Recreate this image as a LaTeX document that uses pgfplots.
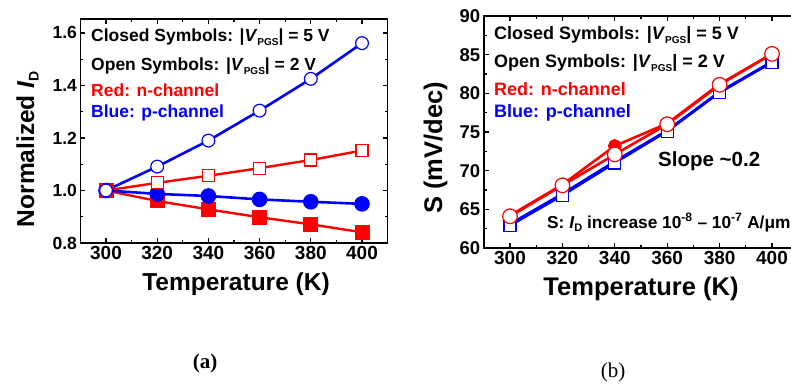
\documentclass[border=0pt]{standalone}
\usepackage{fontspec}
\setmainfont{Liberation Sans}
\newfontfamily\seriffont{Liberation Serif}
\usepackage{pgfplots}
\pgfplotsset{compat=1.18}
\newcommand{\fs}[1]{\fontsize{#1}{#1}\selectfont}
\newcommand{\Vpgs}{|\textit{V}\raisebox{-0.35ex}{\fs{10}PGS}|}
\pgfplotsset{
  myaxis/.style={
    scale only axis,
    anchor=south west,
    axis line style={line width=1.7pt},
    every tick/.style={line width=1.3pt, black},
    major tick length=5pt, minor tick length=3pt,
    tick align=inside,
    xtick={300,320,340,360,380,400},
    minor x tick num=1, minor y tick num=1,
    xmin=290, xmax=410,
    /pgf/number format/assume math mode=true,
    xticklabel style={font=\bfseries\fs{19}},
    yticklabel style={font=\bfseries\fs{17.5}},
    clip=false,
  },
  closedsq/.style={line width=2.4pt, mark=square*, mark size=6.3pt, mark options={solid, line width=0.4pt}},
  opensq/.style={line width=2.4pt, mark=square*, mark size=6pt, mark options={solid, fill=white, line width=1.2pt}},
  closedci/.style={line width=2.6pt, mark=*, mark size=6.5pt, mark options={solid, line width=0.4pt}},
  openci/.style={line width=2.6pt, mark=*, mark size=6.4pt, mark options={solid, fill=white, line width=1.2pt}},
}
\begin{document}
\begin{tikzpicture}
\path[use as bounding box] (0pt,0pt) rectangle (791pt,383pt);
% ---------- (a) ----------
\begin{axis}[myaxis, at={(80.4pt,140pt)}, width=307.2pt, height=224pt,
  ymin=0.8, ymax=1.653, ytick={0.8,1.0,1.2,1.4,1.6},
  yticklabel style={/pgf/number format/.cd, fixed, fixed zerofill, precision=1}]
\addplot[red, closedsq, mark options={fill=red}] coordinates {(300,1.0) (320,0.960) (340,0.928) (360,0.898) (380,0.871) (400,0.841)};
\addplot[blue, closedci, mark options={fill=blue}] coordinates {(300,1.0) (320,0.987) (340,0.979) (360,0.966) (380,0.957) (400,0.949)};
\addplot[red, opensq] coordinates {(300,1.0) (320,1.029) (340,1.056) (360,1.085) (380,1.116) (400,1.152)};
\addplot[blue, openci] coordinates {(300,1.0) (320,1.091) (340,1.190) (360,1.304) (380,1.425) (400,1.561)};
\end{axis}
% ---------- (b) ----------
\begin{axis}[myaxis, at={(483.8pt,135pt)}, width=314.4pt, height=232pt,
  ymin=60, ymax=90, ytick={60,65,70,75,80,85,90},
  yticklabel style={font=\bfseries\fs{18.5}}]
\addplot[blue, closedci, mark size=4.5pt, mark options={fill=blue}] coordinates {(300,63.1) (320,67.0) (340,71.2) (360,75.2) (380,80.2) (400,84.1)};
\addplot[blue, opensq, mark size=6pt] coordinates {(300,62.9) (320,66.8) (340,71.0) (360,75.1) (380,80.1) (400,84.0)};
\addplot[red, closedci, mark size=5.5pt, mark options={fill=red}] coordinates {(300,64.2) (320,68.2) (340,73.2) (360,76.1) (380,81.2) (400,85.1)};
\addplot[red, openci, mark size=7.3pt] coordinates {(300,64.1) (320,68.1) (340,72.1) (360,76.0) (380,81.1) (400,85.1)};
\end{axis}
% ---------- texts ----------
\begin{scope}[every node/.style={anchor=base west, inner sep=0pt, font=\bfseries\fs{17.5}}]
\node at (91pt,341pt) {Closed Symbols: \Vpgs{} = 5 V};
\node at (91pt,312pt) {Open Symbols: \Vpgs{} = 2 V};
\node[text=red] at (91pt,286pt) {Red: n-channel};
\node[text=blue] at (91pt,265pt) {Blue: p-channel};
\node[font=\bfseries\fs{18}] at (494pt,343pt) {Closed Symbols: \Vpgs{} = 5 V};
\node[font=\bfseries\fs{18}] at (494pt,315pt) {Open Symbols: \Vpgs{} = 2 V};
\node[text=red, font=\bfseries\fs{18}] at (494pt,287pt) {Red: n-channel};
\node[text=blue, font=\bfseries\fs{18}] at (494pt,265pt) {Blue: p-channel};
\node[font=\bfseries\fs{20.5}] at (658pt,216pt) {Slope \textasciitilde0.2};
\node[font=\bfseries\fs{17.3}] at (547pt,155pt) {S: \textit{I}\raisebox{-0.35ex}{\fs{11}D} increase 10\textsuperscript{-8} -- 10\textsuperscript{-7} A/μm};
\end{scope}
% axis labels
\node[anchor=base, inner sep=0pt, font=\bfseries\fs{24.5}] at (236pt,93pt) {Temperature (K)};
\node[anchor=base, inner sep=0pt, font=\bfseries\fs{25.5}] at (641pt,88pt) {Temperature (K)};
\node[anchor=base, rotate=90, inner sep=0pt, font=\bfseries\fs{24.5}] at (34pt,234pt) {Normalized \textit{I}\raisebox{-0.35ex}{\fs{14}D}};
\node[anchor=base, rotate=90, inner sep=0pt, font=\bfseries\fs{25.5}] at (442pt,235pt) {S (mV/dec)};
% captions
\node[font=\seriffont\bfseries\fs{21}] at (205pt,20pt) {(a)};
\node[font=\seriffont\fs{21}] at (613pt,11pt) {(b)};
\end{tikzpicture}
\end{document}
